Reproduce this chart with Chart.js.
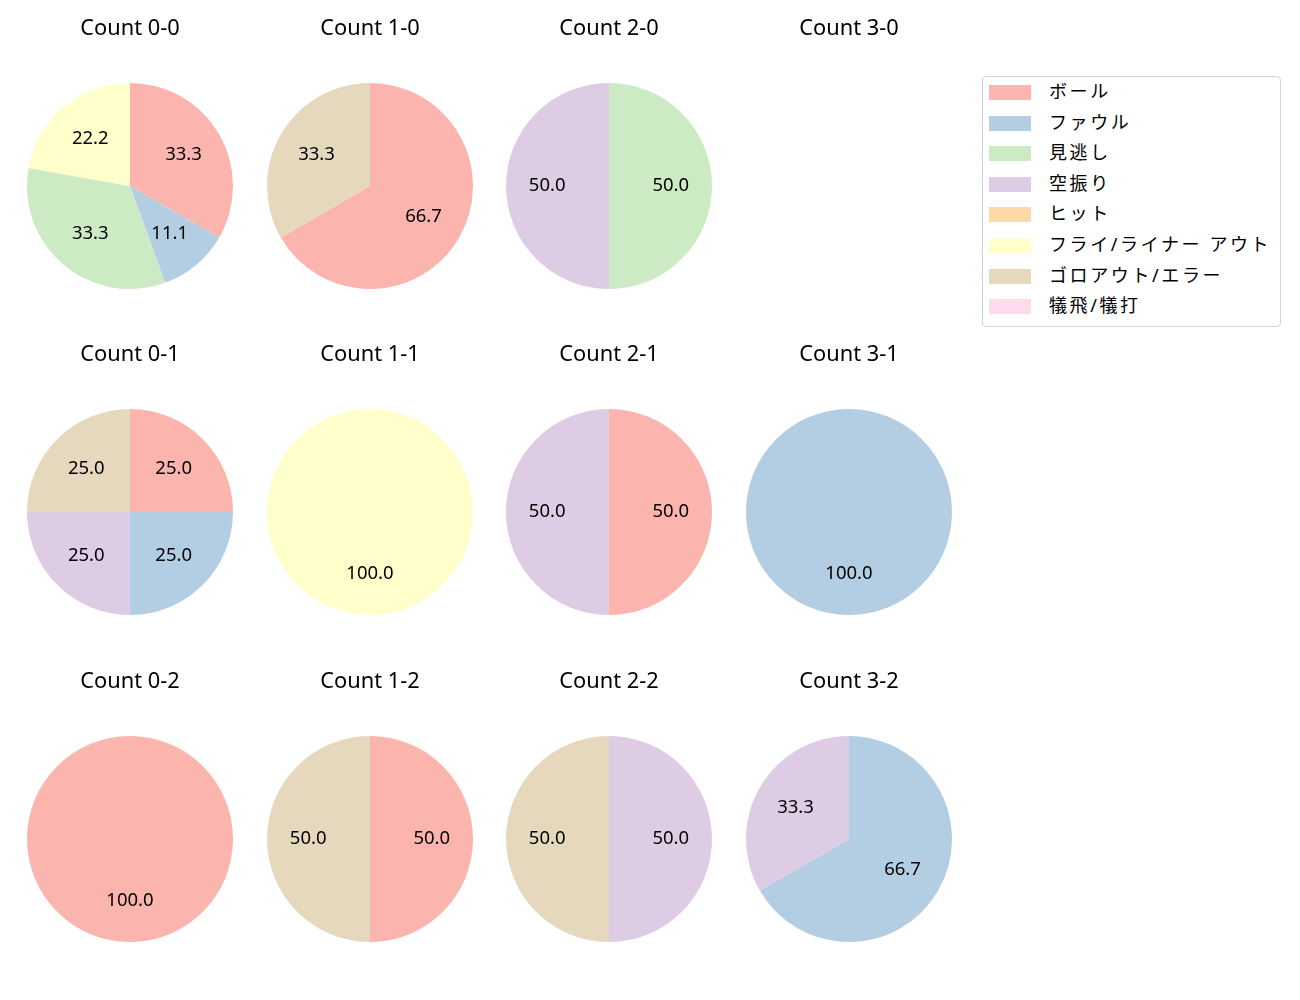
<!DOCTYPE html>
<html>
<head>
<meta charset="utf-8">
<script src="https://cdn.jsdelivr.net/npm/chart.js@4/dist/chart.umd.min.js"></script>
<style>
    body { margin: 0; background: #fff; width: 1300px; height: 1000px; position: relative; overflow: hidden; font-family: "Noto Sans", "Noto Sans CJK JP", sans-serif; }
    canvas.pie { position: absolute; }
    #legend { position: absolute; left: 982px; top: 76px; width: 297px; height: 249px; border: 1px solid #d4d4d4; border-radius: 4px; }
    .item { position: absolute; left: 0; height: 20px; font-size: 18px; line-height: 20px; color: #000; white-space: nowrap; }
    .item span.patch { position: absolute; left: 6px; top: 2px; width: 42px; height: 15px; }
    .item span.txt { position: absolute; left: 66px; top: -2px; letter-spacing: 2.6px; }
</style>
</head>
<body>
<div id="legend"></div>
<script>
// result types (legend order) and colours
const categories = ["ボール", "ファウル", "見逃し", "空振り", "ヒット", "フライ/ライナー アウト", "ゴロアウト/エラー", "犠飛/犠打"]
const colors = ["#fbb4ae", "#b3cde3", "#ccebc5", "#decbe4", "#fed9a6", "#ffffcc", "#e5d8bd", "#fddaec"]

// counts, in grid order (rows: strikes 0..2, columns: balls 0..3)
const counts = ["0-0", "1-0", "2-0", "3-0", "0-1", "1-1", "2-1", "3-1", "0-2", "1-2", "2-2", "3-2"]

// pitches per result type, one value per count above
const ball     = [3, 2, 0, 0, 1, 0, 1, 0, 1, 1, 0, 0]
const foul     = [1, 0, 0, 0, 1, 0, 0, 1, 0, 0, 0, 2]
const looking  = [3, 0, 1, 0, 0, 0, 0, 0, 0, 0, 0, 0]
const swinging = [0, 0, 1, 0, 1, 0, 1, 0, 0, 0, 1, 1]
const hit      = [0, 0, 0, 0, 0, 0, 0, 0, 0, 0, 0, 0]
const flyOut   = [2, 0, 0, 0, 0, 1, 0, 0, 0, 0, 0, 0]
const groundOut= [0, 1, 0, 0, 1, 0, 0, 0, 0, 1, 1, 0]
const sacrifice= [0, 0, 0, 0, 0, 0, 0, 0, 0, 0, 0, 0]
const series = [ball, foul, looking, swinging, hit, flyOut, groundOut, sacrifice]

const FONT = '"Noto Sans", "Noto Sans CJK JP", sans-serif'

// percentage labels at 0.6 radius + subplot title, like matplotlib autopct
const pieText = {
    id: "pieText",
    afterDatasetsDraw(chart, args, opts) {
        const ctx = chart.ctx
        const meta = chart.getDatasetMeta(0)
        const values = chart.data.datasets[0].data
        const total = values.reduce((a, b) => a + b, 0)
        ctx.save()
        ctx.fillStyle = "#000"
        ctx.textAlign = "center"
        ctx.textBaseline = "middle"
        ctx.font = "18.5px " + FONT
        meta.data.forEach((arc, i) => {
            if (!values[i]) return
            const p = arc.getProps(["x", "y", "startAngle", "endAngle", "outerRadius"], true)
            const a = (p.startAngle + p.endAngle) / 2
            const r = p.outerRadius * 0.6
            ctx.fillText((values[i] / total * 100).toFixed(1), p.x + Math.cos(a) * r, p.y + Math.sin(a) * r)
        })
        ctx.font = "21.8px " + FONT
        ctx.fillText(opts.title, chart.width / 2, 28)
        ctx.restore()
    }
}

counts.forEach((c, k) => {
    const col = k % 4, row = Math.floor(k / 4)
    const cx = 130 + col * 239.7
    const cy = 185.5 + row * 326.7
    const canvas = document.createElement("canvas")
    canvas.className = "pie"
    canvas.width = 240
    canvas.height = 300
    canvas.style.left = (cx - 120) + "px"
    canvas.style.top = (cy - 185) + "px"
    canvas.style.width = "240px"
    canvas.style.height = "300px"
    document.body.appendChild(canvas)
    new Chart(canvas.getContext("2d"), {
        type: "pie",
        data: {
            labels: categories,
            datasets: [{
                data: series.map(s => s[k]),
                backgroundColor: colors,
                borderWidth: 0,
                hoverOffset: 0,
                offset: 0
            }]
        },
        options: {
            responsive: false,
            animation: false,
            events: [],
            layout: { padding: { left: 17, right: 17, top: 82, bottom: 12 } },
            plugins: {
                legend: { display: false },
                tooltip: { enabled: false },
                pieText: { title: "Count " + c }
            }
        },
        plugins: [pieText]
    })
})

// legend box
const legend = document.getElementById("legend")
categories.forEach((name, i) => {
    const item = document.createElement("div")
    item.className = "item"
    item.style.top = (6 + i * 30.6) + "px"
    item.innerHTML = '<span class="patch" style="background:' + colors[i] + '"></span><span class="txt">' + name + '</span>'
    legend.appendChild(item)
})
</script>
</body>
</html>
